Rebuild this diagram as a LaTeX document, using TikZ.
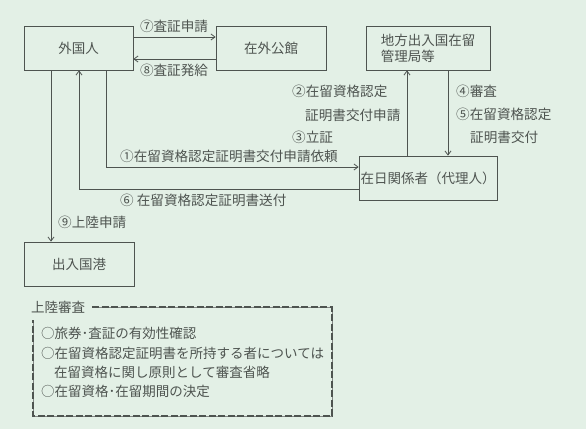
\documentclass[tikz,border=0pt]{standalone}
\usepackage{fontspec}
\setmainfont{Noto Sans CJK JP}
\usetikzlibrary{arrows.meta}
\definecolor{bgmint}{RGB}{227,240,230}
\definecolor{inkgray}{RGB}{78,84,80}
\tikzset{
  box/.style={draw=inkgray,line width=0.8pt,minimum width=#1,minimum height=44pt,inner sep=0pt,text=inkgray},
  box/.default=110pt,
  arr/.style={draw=inkgray,line width=0.8pt,-{Straight Barb[length=4pt,width=6pt]}},
  lbl/.style={text=inkgray,inner sep=0pt,font=\fontsize{13.6}{16}\selectfont},
  memo/.style={text=inkgray,inner sep=0pt,anchor=west,font=\fontsize{13.5}{16}\selectfont}
}
\begin{document}
\begin{tikzpicture}[x=1pt,y=-1pt,font=\fontsize{13.5}{16}\selectfont]

% 背景
\fill[bgmint] (0,0) rectangle (586,429);
\useasboundingbox (0,0) rectangle (586,429);

% 各機関
\node[box=109pt] (gaikoku) at (78.5,48) {外国人};
\node[box=110pt] (zaigai) at (271,48) {在外公館};
\node[box=124pt,align=left] (chiho) at (428,48) {地方出入国在留\\管理局等};
\node[box=138pt] (zainichi) at (428,178) {在日関係者（代理人）};
\node[box=110pt] (kuko) at (79,264) {出入国港};

% 査証
\draw[arr] (gaikoku.east |- 0,37) -- (zaigai.west |- 0,37);
\draw[arr] (zaigai.west |- 0,59) -- (gaikoku.east |- 0,59);
\node[lbl] (l7) at (174,26) {⑦査証申請};
\node[lbl] (l8) at (174,70) {⑧査証発給};

% 申請依頼・送付
\draw[arr] (gaikoku.south -| 106,0) |- (zainichi.west |- 0,167);
\draw[arr] (zainichi.west |- 0,189) -| (gaikoku.south -| 79,0);
\node[lbl,anchor=west] (l1) at (120,156) {①在留資格認定証明書交付申請依頼};
\node[lbl,anchor=west] (l6) at (120,200) {⑥\ 在留資格認定証明書送付};

% 上陸申請
\draw[arr] (gaikoku.south -| 51,0) -- (kuko.north -| 51,0);
\node[lbl,anchor=west] (l9) at (58,222) {⑨上陸申請};

% 認定証明書
\draw[arr] (zainichi.north -| 407,0) -- (chiho.south -| 407,0);
\draw[arr] (chiho.south -| 448,0) -- (zainichi.north -| 448,0);
\node[lbl,anchor=west] (l2) at (292,91) {②在留資格認定};
\node[lbl,anchor=west] (l2b) at (305,115) {証明書交付申請};
\node[lbl,anchor=west] (l3) at (292,137) {③立証};
\node[lbl,anchor=west] (l4) at (456,91) {④審査};
\node[lbl,anchor=west] (l5) at (456,114) {⑤在留資格認定};
\node[lbl,anchor=west] (l5b) at (470,137) {証明書交付};

% 上陸審査
\node[memo] (title) at (31,307) {上陸審査};
\draw[inkgray!70,line width=0.5pt] (92,307) -- (332,307) -- (332,416) -- (33,416) -- (33,320);
\draw[inkgray,line width=2.2pt,dash pattern=on 7pt off 2.5pt] (92,307) -- (332,307) -- (332,416) -- (33,416) -- (33,320);
\node[memo] (m1) at (41,333) {○旅券･査証の有効性確認};
\node[memo] (m2) at (41,353) {○在留資格認定証明書を所持する者については};
\node[memo] (m3) at (54,372) {在留資格に関し原則として審査省略};
\node[memo] (m4) at (41,391) {○在留資格･在留期間の決定};

\end{tikzpicture}
\end{document}
